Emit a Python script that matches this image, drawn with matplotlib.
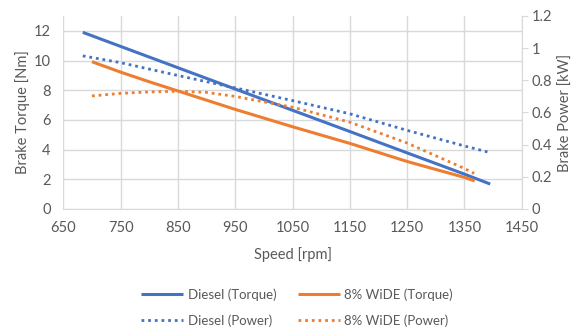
import matplotlib
matplotlib.use("Agg")
import matplotlib.pyplot as plt

# Data
diesel_torque_rpm = [684, 950, 1050, 1150, 1250, 1350, 1395]
diesel_torque = [11.9, 8.08, 6.65, 5.22, 3.78, 2.35, 1.68]

wide_torque_rpm = [700, 750, 800, 850, 950, 1050, 1150, 1250, 1350, 1368]
wide_torque = [9.92, 9.22, 8.57, 7.95, 6.71, 5.54, 4.42, 3.2, 2.13, 1.89]

diesel_power_rpm = [684, 750, 850, 950, 1050, 1150, 1250, 1350, 1391]
diesel_power = [0.952, 0.91, 0.83, 0.753, 0.674, 0.592, 0.489, 0.392, 0.354]

wide_power_rpm = [700, 750, 800, 850, 900, 950, 1050, 1150, 1250, 1350, 1367]
wide_power = [0.703, 0.719, 0.728, 0.732, 0.725, 0.70, 0.633, 0.54, 0.41, 0.252, 0.221]

x_ticks = [650, 750, 850, 950, 1050, 1150, 1250, 1350, 1450]
y_left_ticks = [0, 2, 4, 6, 8, 10, 12]
y_right_ticks = [0, 0.2, 0.4, 0.6, 0.8, 1, 1.2]
y_right_labels = ["0", "0.2", "0.4", "0.6", "0.8", "1", "1.2"]

BLUE = "#4472C4"
ORANGE = "#ED7D31"
TXT = "#595959"
GRID = "#D9D9D9"

plt.rcParams['font.family'] = ['Lato', 'DejaVu Sans']

fig = plt.figure(figsize=(5.75, 3.29), dpi=100)
ax = fig.add_axes([63.3/575, 1-209/329, (521.7-63.3)/575, (209-16)/329])
ax2 = ax.twinx()

l1, = ax.plot(diesel_torque_rpm, diesel_torque, color=BLUE, lw=2.2, solid_capstyle='butt')
l2, = ax.plot(wide_torque_rpm, wide_torque, color=ORANGE, lw=2.2, solid_capstyle='butt')
l3, = ax2.plot(diesel_power_rpm, diesel_power, color=BLUE, lw=2.0, linestyle=(0, (1, 1.4)))
l4, = ax2.plot(wide_power_rpm, wide_power, color=ORANGE, lw=2.0, linestyle=(0, (1, 1.4)))

ax.set_xlim(650, 1450)
ax.set_ylim(0, 13)
ax.set_xticks(x_ticks)
ax.set_yticks(y_left_ticks)
ax2.set_ylim(0, 1.2)
ax2.set_yticks(y_right_ticks)
ax2.set_yticklabels(y_right_labels)

ax.grid(True, color=GRID, lw=1)
ax.set_axisbelow(True)
for a in (ax, ax2):
    for s in a.spines.values():
        s.set_visible(False)
ax.spines['bottom'].set_visible(True)
ax.spines['bottom'].set_color(GRID)
ax2.spines['right'].set_visible(True)
ax2.spines['right'].set_color(GRID)

FS = 10.5
ax.tick_params(axis='x', length=0, colors=TXT, labelsize=FS, pad=9)
ax.tick_params(axis='y', length=0, colors=TXT, labelsize=FS, pad=9)
ax2.tick_params(axis='y', length=4, color=GRID, labelcolor=TXT, labelsize=FS, pad=3)

ax.set_xlabel("Speed [rpm]", color=TXT, fontsize=FS, labelpad=8)
ax.set_ylabel("Brake Torque [Nm]", color=TXT, fontsize=FS, labelpad=3)
ax2.set_ylabel("Brake Power [kW]", color=TXT, fontsize=FS, labelpad=5)

handles = [l1, l3, l2, l4]
labels = ["Diesel (Torque)", "Diesel (Power)", "8% WiDE (Torque)", "8% WiDE (Power)"]
fig.legend(handles, labels, ncol=2, loc='center', bbox_to_anchor=(297/575, 1 - 307.5/329),
           frameon=False, fontsize=9.5, handlelength=3.2, handletextpad=0.35,
           columnspacing=1.6, labelspacing=1.0, labelcolor=TXT)

fig.savefig("out.png", dpi=100)
